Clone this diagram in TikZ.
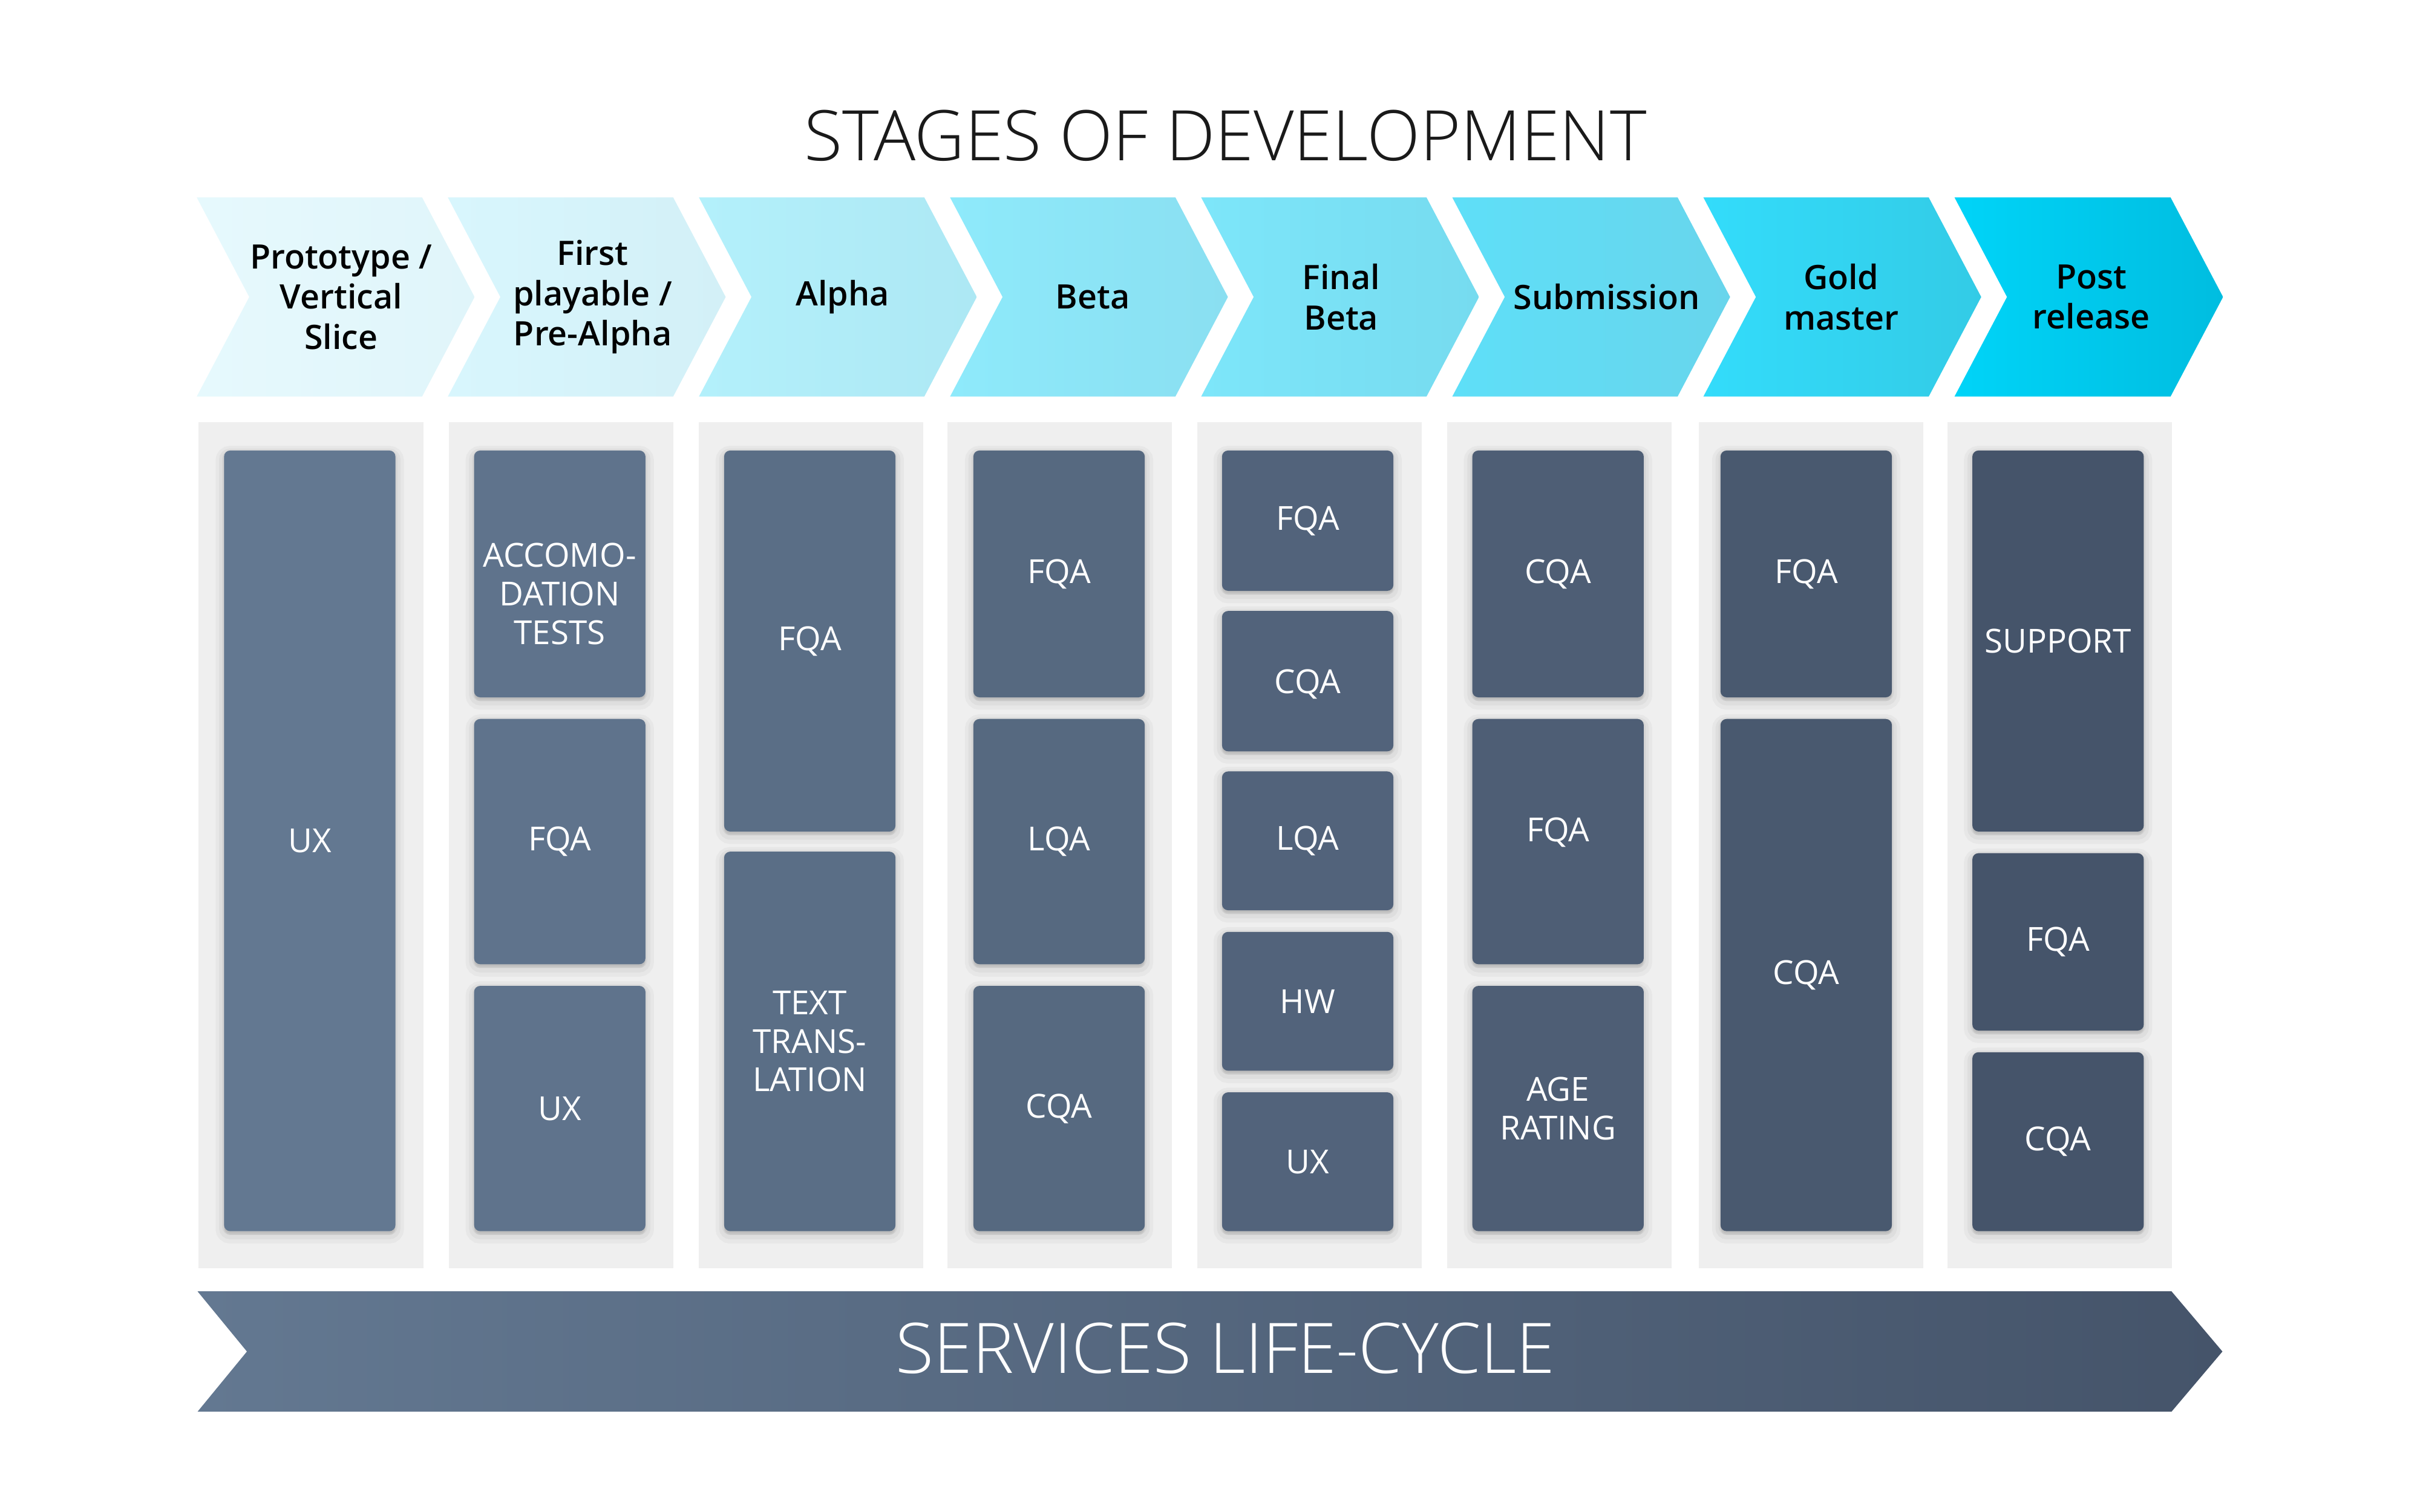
\documentclass[tikz,border=0pt]{standalone}
\usepackage{fontspec}
\setmainfont{Open Sans}
\newfontfamily\oslight{Open Sans Light}
\newfontfamily\ossemi{Open Sans Semibold}
\usetikzlibrary{shadows}
\definecolor{boxL}{HTML}{637891}
\definecolor{boxR}{HTML}{45546A}
\colorlet{bc1}{boxR!0!boxL}
\colorlet{bc2}{boxR!14!boxL}
\colorlet{bc3}{boxR!29!boxL}
\colorlet{bc4}{boxR!43!boxL}
\colorlet{bc5}{boxR!57!boxL}
\colorlet{bc6}{boxR!71!boxL}
\colorlet{bc7}{boxR!86!boxL}
\colorlet{bc8}{boxR!100!boxL}
\definecolor{panel}{HTML}{EFEFEF}
\definecolor{chL1}{HTML}{E6F9FD}\definecolor{chR1}{HTML}{E0F5FA}
\definecolor{chL2}{HTML}{D8F6FD}\definecolor{chR2}{HTML}{D3F0F7}
\definecolor{chL3}{HTML}{B3F0FB}\definecolor{chR3}{HTML}{ADE8F4}
\definecolor{chL4}{HTML}{8EEAFB}\definecolor{chR4}{HTML}{8ADFF1}
\definecolor{chL5}{HTML}{7DE6FA}\definecolor{chR5}{HTML}{76DBEF}
\definecolor{chL6}{HTML}{5EDFF8}\definecolor{chR6}{HTML}{68D5EC}
\definecolor{chL7}{HTML}{33DCFB}\definecolor{chR7}{HTML}{33CBE6}
\definecolor{chL8}{HTML}{00D4F8}\definecolor{chR8}{HTML}{00BDE0}
\definecolor{titlec}{HTML}{1A1A1A}
\newcommand\chev[5]{% #1 index, #2 left x, #3 top width, #4 text x, #5 text
  \shade[left color=chL#1, right color=chR#1]
    (#2,128) -- ++(#3,0) -- ++(34,64.5) -- ++(-34,64.5) -- ++(-#3,0) -- ++(34,-64.5) -- cycle;
  \node[chtext] (ch#1) at (#4,192.5) {#5};
}
\newcommand\qbox[7][0]{% #1 text shift, #2 name, #3 x centre, #4 top, #5 bottom, #6 colour, #7 text
  \node[qbox, fill=#6, minimum height={(#5-#4)*0.01cm}] (#2) at (#3,{(#4+#5)/2}) {};
  \node[qtext] (#2t) at ([yshift={-(#1)*0.01cm}]#2.center) {#7};
}
\tikzset{
  chtext/.style={align=center, inner sep=0pt, font=\ossemi\fontsize{6.2pt}{7.4pt}\selectfont, text=black},
  panelbox/.style={fill=panel, minimum width=1.455cm, minimum height=5.48cm, inner sep=0pt, anchor=north west},
  qbox/.style={rounded corners=0.04cm, minimum width=1.11cm, inner sep=0pt,
    general shadow={fill=black, draw=black, opacity=0.03, line width=0.11cm, shadow yshift=-0.025cm},
    general shadow={fill=black, draw=black, opacity=0.035, line width=0.065cm, shadow yshift=-0.02cm},
    general shadow={fill=black, draw=black, opacity=0.045, line width=0.025cm, shadow yshift=-0.012cm}},
  qtext/.style={align=center, inner sep=0pt, text=white, font=\fontsize{6.1pt}{7.1pt}\selectfont},
  bigtext/.style={inner sep=0pt, font=\oslight\fontsize{12.85pt}{15pt}\selectfont},
}
\begin{document}
\begin{tikzpicture}[x=0.01cm, y=-0.01cm]
\useasboundingbox (0,0) rectangle (1568,980);
\fill[white] (0,0) rectangle (1568,980);
% title
\node[bigtext, text=titlec] (title) at (794,88) {STAGES OF DEVELOPMENT};
% chevrons
\chev{1}{127.5}{146}{221}{Prototype /\\Vertical\\Slice}
\chev{2}{290.2}{146}{384}{First\\playable /\\Pre-Alpha}
\chev{3}{452.9}{146}{546}{Alpha}
\chev{4}{615.6}{146}{708}{Beta}
\chev{5}{778.3}{146}{869}{Final\\Beta}
\chev{6}{941.0}{146}{1041}{Submission}
\chev{7}{1103.7}{146}{1193}{Gold\\master}
\chev{8}{1266.4}{140}{1355}{Post\\release}
% panels
\foreach \i/\x in {1/128,2/290,3/452,4/613,5/775,6/937,7/1100,8/1261}{
  \node[panelbox] (p\i) at (\x,273) {};
}
% column 1
\qbox{c1a}{200.7}{292}{798}{bc1}{UX}
% column 2
\qbox[13]{c2a}{362.7}{292}{452}{bc2}{ACCOMO-\\DATION\\TESTS}
\qbox{c2b}{362.7}{466}{625}{bc2}{FQA}
\qbox{c2c}{362.7}{639}{798}{bc2}{UX}
% column 3
\qbox{c3a}{524.7}{292}{539}{bc3}{FQA}
\qbox{c3b}{524.7}{552}{798}{bc3}{TEXT\\TRANS-\\LATION}
% column 4
\qbox{c4a}{686.2}{292}{452}{bc4}{FQA}
\qbox{c4b}{686.2}{466}{625}{bc4}{LQA}
\qbox{c4c}{686.2}{639}{798}{bc4}{CQA}
% column 5
\qbox{c5a}{847.3}{292}{383}{bc5}{FQA}
\qbox[2]{c5b}{847.3}{396}{487}{bc5}{CQA}
\qbox{c5c}{847.3}{500}{590}{bc5}{LQA}
\qbox{c5d}{847.3}{604}{694}{bc5}{HW}
\qbox{c5e}{847.3}{708}{798}{bc5}{UX}
% column 6
\qbox{c6a}{1009.5}{292}{452}{bc6}{CQA}
\qbox[-6]{c6b}{1009.5}{466}{625}{bc6}{FQA}
\qbox{c6c}{1009.5}{639}{798}{bc6}{AGE\\RATING}
% column 7
\qbox{c7a}{1170.3}{292}{452}{bc7}{FQA}
\qbox{c7b}{1170.3}{466}{798}{bc7}{CQA}
% column 8
\qbox{c8a}{1333.5}{292}{539}{bc8}{SUPPORT}
\qbox{c8b}{1333.5}{553}{668}{bc8}{FQA}
\qbox{c8c}{1333.5}{682}{798}{bc8}{CQA}
% bottom arrow
\shade[left color=boxL, right color=boxR]
  (128,837) -- (1407,837) -- (1440,876) -- (1407,915) -- (128,915) -- (160,876) -- cycle;
\node[bigtext, text=white] (life) at (794,874) {SERVICES LIFE-CYCLE};
\end{tikzpicture}
\end{document}
